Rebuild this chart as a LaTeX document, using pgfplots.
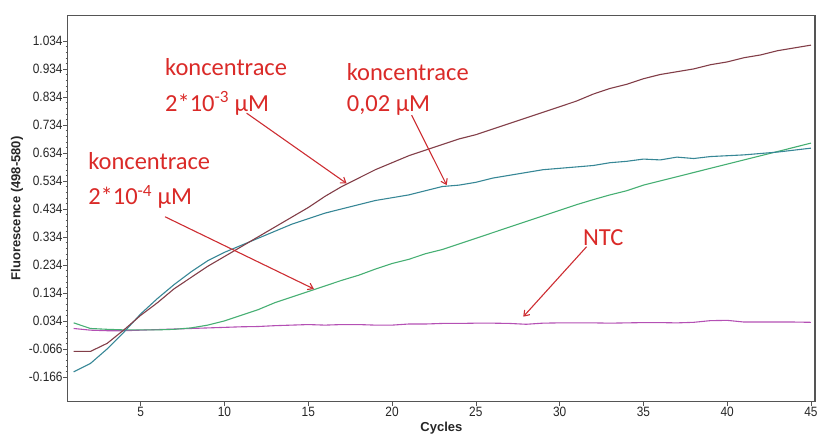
\documentclass[border=0pt]{standalone}
\usepackage{pgfplots}
\pgfplotsset{compat=1.18}
\usepackage{fontspec}
\setmainfont{Liberation Sans}
\newfontfamily\tickfont[FakeStretch=0.88]{Liberation Sans}
\newfontfamily\notefont{Carlito}
\usetikzlibrary{arrows.meta}

\definecolor{cMaroon}{RGB}{130,62,72}
\definecolor{cTeal}{RGB}{55,135,150}
\definecolor{cGreen}{RGB}{70,175,115}
\definecolor{cPurple}{RGB}{180,80,180}
\definecolor{cNote}{RGB}{218,42,40}
\definecolor{cArrow}{RGB}{205,45,50}
\definecolor{cFrame}{RGB}{85,85,85}

% amplification curves, fluorescence per cycle
\pgfplotstableread{
c  f
1  -0.074
2  -0.074
3  -0.045
4   0.003
5   0.055
6   0.100
7   0.150
8   0.190
9   0.230
10  0.265
11  0.300
12  0.335
13  0.370
14  0.405
15  0.440
16  0.480
17  0.515
18  0.545
19  0.575
20  0.600
21  0.625
22  0.645
23  0.665
24  0.685
25  0.700
26  0.720
27  0.740
28  0.760
29  0.780
30  0.800
31  0.820
32  0.845
33  0.865
34  0.880
35  0.900
36  0.915
37  0.925
38  0.935
39  0.950
40  0.960
41  0.975
42  0.985
43  1.000
44  1.010
45  1.020
}\concA

\pgfplotstableread{
c  f
1  -0.147
2  -0.117
3  -0.065
4  -0.005
5   0.060
6   0.115
7   0.165
8   0.210
9   0.250
10  0.280
11  0.305
12  0.330
13  0.355
14  0.380
15  0.400
16  0.420
17  0.435
18  0.450
19  0.465
20  0.475
21  0.485
22  0.500
23  0.515
24  0.520
25  0.530
26  0.545
27  0.555
28  0.565
29  0.575
30  0.580
31  0.585
32  0.590
33  0.600
34  0.605
35  0.613
36  0.610
37  0.620
38  0.615
39  0.622
40  0.625
41  0.628
42  0.633
43  0.638
44  0.645
45  0.652
}\concB

\pgfplotstableread{
c  f
1   0.028
2   0.008
3   0.005
4   0.003
5   0.003
6   0.003
7   0.005
8   0.010
9   0.020
10  0.035
11  0.055
12  0.075
13  0.100
14  0.120
15  0.140
16  0.160
17  0.180
18  0.198
19  0.220
20  0.240
21  0.255
22  0.275
23  0.290
24  0.310
25  0.330
26  0.350
27  0.370
28  0.390
29  0.410
30  0.430
31  0.450
32  0.468
33  0.485
34  0.500
35  0.520
36  0.535
37  0.550
38  0.565
39  0.580
40  0.595
41  0.610
42  0.625
43  0.640
44  0.655
45  0.670
}\concC

\pgfplotstableread{
c  f
1   0.008
2   0.002
3   0.000
4   0.000
5   0.002
6   0.004
7   0.006
8   0.008
9   0.010
10  0.012
11  0.014
12  0.015
13  0.018
14  0.020
15  0.022
16  0.020
17  0.022
18  0.022
19  0.020
20  0.020
21  0.024
22  0.024
23  0.026
24  0.026
25  0.027
26  0.027
27  0.026
28  0.023
29  0.027
30  0.028
31  0.028
32  0.028
33  0.027
34  0.028
35  0.029
36  0.029
37  0.028
38  0.030
39  0.036
40  0.037
41  0.031
42  0.031
43  0.031
44  0.031
45  0.030
}\ntc

\begin{document}
\begin{tikzpicture}
\begin{axis}[
  scale only axis,
  width=747.2bp, height=386.4bp,
  xmin=0.65, xmax=45.24,
  ymin=-0.2535, ymax=1.1265,
  axis line style={cFrame, line width=1.3bp},
  tick style={cFrame, line width=0.6bp},
  tick align=outside,
  major tick length=4.5bp,
  minor tick length=2.2bp,
  xtick={5,10,...,45},
  ytick={-0.166,-0.066,0.034,0.134,0.234,0.334,0.434,0.534,0.634,0.734,0.834,0.934,1.034},
  yticklabels={-0.166,-0.066,0.034,0.134,0.234,0.334,0.434,0.534,0.634,0.734,0.834,0.934,1.034},
  minor y tick num=4,
  xtick pos=bottom, ytick pos=left,
  /pgf/number format/assume math mode=true,
  ticklabel style={font=\tickfont\fontsize{13.5bp}{15bp}\selectfont, text=black!85},
  yticklabel style={inner sep=0.5bp},
  xticklabel style={inner sep=1bp},
  xlabel={\textbf{Cycles}},
  ylabel={\textbf{Fluorescence (498-580)}},
  label style={font=\fontsize{13bp}{15bp}\selectfont, text=black!85},
  xlabel style={at={(axis description cs:0.5,-0.068)}, anchor=center},
  ylabel style={at={(axis description cs:-0.068,0.5)}, anchor=center},
  every axis plot/.append style={line width=1.1bp},
  clip=false,
]
\addplot[cPurple] table[x=c,y=f] {\ntc};
\addplot[cGreen] table[x=c,y=f] {\concC};
\addplot[cTeal] table[x=c,y=f] {\concB};
\addplot[cMaroon] table[x=c,y=f] {\concA};

% annotations
\begin{scope}[every node/.style={font=\notefont\fontsize{24.5bp}{29bp}\selectfont, text=cNote, anchor=base west, inner sep=0pt}]
\node at (axis cs:6.45,0.913) {koncentrace};
\node at (axis cs:6.45,0.782) {2*10\textsuperscript{-3} μM};
\node at (axis cs:17.29,0.895) {koncentrace};
\node at (axis cs:17.29,0.782) {0,02 μM};
\node at (axis cs:1.86,0.574) {koncentrace};
\node at (axis cs:1.86,0.449) {2*10\textsuperscript{-4} μM};
\node at (axis cs:31.39,0.306) {NTC};
\end{scope}
\begin{scope}[cArrow, line width=1.1bp, -{Straight Barb[length=5bp,width=7bp]}]
\draw (axis cs:11.32,0.777) -- (axis cs:17.29,0.526);
\draw (axis cs:21.17,0.770) -- (axis cs:23.26,0.520);
\draw (axis cs:6.45,0.407) -- (axis cs:15.34,0.149);
\draw (axis cs:31.61,0.300) -- (axis cs:27.83,0.050);
\end{scope}
\end{axis}
\pgfresetboundingbox
\path[use as bounding box] ([xshift=-67.8bp,yshift=-33.3bp]current axis.south west) rectangle ([xshift=2bp,yshift=15.3bp]current axis.north east);
\end{tikzpicture}
\end{document}
